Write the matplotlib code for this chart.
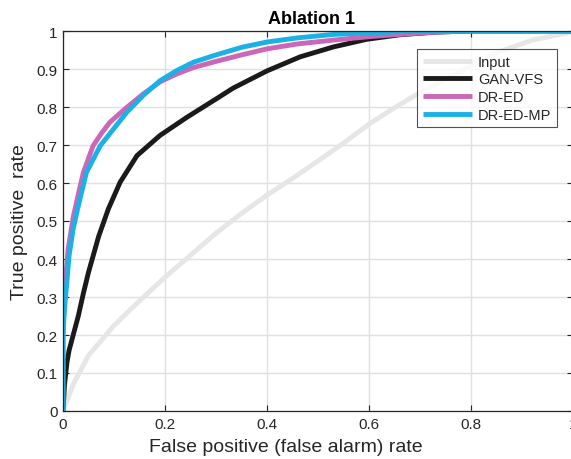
import matplotlib

matplotlib.use("Agg")
import matplotlib.pyplot as plt

# ROC curves (false positive rate, true positive rate)
input_fpr = [0, 0.02, 0.05, 0.1, 0.15, 0.2, 0.25, 0.3, 0.35, 0.4, 0.45, 0.5,
             0.55, 0.6, 0.65, 0.7, 0.75, 0.8, 0.85, 0.92, 0.99, 1.0]
input_tpr = [0, 0.07, 0.146, 0.225, 0.29, 0.352, 0.41, 0.468, 0.52, 0.568, 0.612, 0.658,
             0.705, 0.755, 0.798, 0.838, 0.873, 0.908, 0.943, 0.976, 0.995, 1.0]

gan_fpr = [0, 0.003, 0.008, 0.012, 0.02, 0.03, 0.04, 0.05, 0.07, 0.089, 0.112, 0.145,
           0.19, 0.243, 0.3, 0.334, 0.4, 0.465, 0.53, 0.595, 0.66, 0.73, 0.8, 1.0]
gan_tpr = [0, 0.07, 0.13, 0.16, 0.2, 0.25, 0.31, 0.365, 0.46, 0.532, 0.602, 0.672,
           0.725, 0.773, 0.821, 0.85, 0.895, 0.932, 0.958, 0.978, 0.99, 0.997, 1.0, 1.0]

dred_fpr = [0, 0, 0.003, 0.006, 0.01, 0.02, 0.03, 0.04, 0.059, 0.075, 0.092, 0.125,
            0.157, 0.19, 0.223, 0.256, 0.3, 0.35, 0.4, 0.46, 0.53, 0.6, 0.66, 0.73,
            0.8, 1.0]
dred_tpr = [0, 0.22, 0.3, 0.36, 0.426, 0.51, 0.57, 0.628, 0.698, 0.73, 0.76, 0.799,
            0.834, 0.866, 0.887, 0.904, 0.92, 0.937, 0.953, 0.966, 0.976, 0.985, 0.991,
            0.997, 1.0, 1.0]

mp_fpr = [0, 0, 0.003, 0.007, 0.012, 0.02, 0.03, 0.046, 0.073, 0.099, 0.125, 0.157,
          0.19, 0.223, 0.256, 0.3, 0.35, 0.4, 0.46, 0.53, 0.6, 0.66, 0.72, 1.0]
mp_tpr = [0, 0.2, 0.27, 0.33, 0.41, 0.48, 0.54, 0.628, 0.698, 0.742, 0.786, 0.83,
          0.869, 0.896, 0.918, 0.937, 0.957, 0.971, 0.982, 0.991, 0.995, 0.998, 1.0, 1.0]

labels = ["Input", "GAN-VFS", "DR-ED", "DR-ED-MP"]
colors = ["#e6e6e6", "#1a1a1a", "#cc66b8", "#1ab2e6"]

plt.rcParams.update({"font.family": ["Liberation Sans", "DejaVu Sans"]})
AX_COL = "#262626"

fig = plt.figure(figsize=(5.71, 4.60), dpi=100)
ax = fig.add_axes([63 / 571, 48 / 460, 510 / 571, 380 / 460])

series = [(input_fpr, input_tpr), (gan_fpr, gan_tpr), (dred_fpr, dred_tpr), (mp_fpr, mp_tpr)]
for (x, y), lab, col in zip(series, labels, colors):
    ax.plot(x, y, color=col, lw=3.5, label=lab, solid_capstyle="butt",
            solid_joinstyle="round")

ax.set_xlim(0, 1)
ax.set_ylim(0, 1)
ax.set_xticks([0, 0.2, 0.4, 0.6, 0.8, 1])
ax.set_xticklabels(["0", "0.2", "0.4", "0.6", "0.8", "1"])
ax.set_yticks([i / 10 for i in range(11)])
ax.set_yticklabels(["0"] + [f"{i / 10:.1f}" for i in range(1, 10)] + ["1"])
ax.grid(True, color="#e0e0e0", lw=1.0)
ax.set_axisbelow(True)
ax.tick_params(direction="in", length=4, width=0.8, color=AX_COL, labelsize=11,
               labelcolor=AX_COL, top=True, right=True, pad=4)
for s in ax.spines.values():
    s.set_color(AX_COL)
    s.set_linewidth(0.9)

# the visible image is cropped on the right, so labels sit left of the axes centre
ax.set_title("Ablation 1", fontsize=13, fontweight="bold", color="black", pad=6,
             x=0.488)
ax.set_xlabel("False positive (false alarm) rate", fontsize=14, color=AX_COL)
ax.xaxis.set_label_coords(0.437, -0.072)
ax.set_ylabel("True positive  rate", fontsize=14, color=AX_COL, labelpad=6)

leg = ax.legend(loc="upper right", bbox_to_anchor=(0.969, 0.953), fontsize=10.5,
                frameon=True, fancybox=False, handlelength=3.4, handletextpad=0.4,
                borderpad=0.4, labelspacing=0.25, borderaxespad=0)
leg.get_frame().set_edgecolor(AX_COL)
leg.get_frame().set_linewidth(0.8)
for t in leg.get_texts():
    t.set_color(AX_COL)

fig.savefig("out.png", dpi=100)
